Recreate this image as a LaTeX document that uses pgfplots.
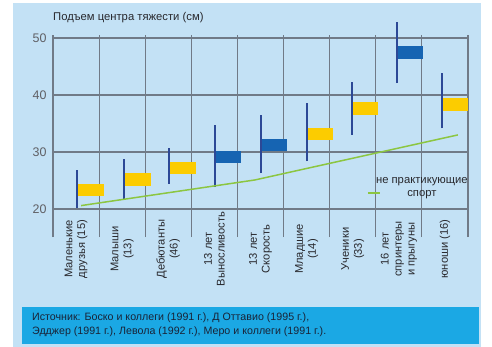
\documentclass[border=0pt]{standalone}
\usepackage{fontspec}
\setmainfont{Liberation Sans}
\usepackage{pgfplots}
\pgfplotsset{compat=1.18}
\definecolor{panel}{RGB}{195,225,245}
\definecolor{srcbox}{RGB}{27,168,228}
\definecolor{ybox}{RGB}{252,204,0}
\definecolor{bbox}{RGB}{22,100,178}
\definecolor{rline}{RGB}{44,72,150}
\definecolor{gline}{RGB}{140,198,65}
\definecolor{gridc}{RGB}{112,122,135}
\definecolor{txt}{RGB}{40,40,45}
\definecolor{srctxt}{RGB}{25,35,55}
\begin{document}
\begin{tikzpicture}
\useasboundingbox (0,0) rectangle (492bp,347bp);
\fill[white] (0,0) rectangle (492bp,347bp);
\fill[panel] (13bp,0) rectangle (481bp,344bp);
\fill[srcbox] (22bp,3bp) rectangle (479bp,40bp);
\node[anchor=west, font=\fontsize{10.7}{14}\selectfont, text=srctxt, align=left, inner sep=0pt] at (32bp,22bp) {Источник: Боско и коллеги (1991 г.), Д Оттавио (1995 г.),\\Эдджер (1991 г.), Левола (1992 г.), Меро и коллеги (1991 г.).};
\node[anchor=west, font=\fontsize{11.3}{13}\selectfont, text=txt, inner sep=0pt] at (53bp,329bp) {Подъем центра тяжести (см)};
\begin{axis}[at={(53bp,110bp)}, anchor=south west, scale only axis,
  width=415bp, height=202bp,
  xmin=0, xmax=9, ymin=15.09, ymax=50.53, clip=false,
  axis line style={draw=none}, tick style={draw=none},
  ytick={20,30,40,50}, ymajorgrids,
  xtick={0.5,1.5,...,8.5}, minor xtick={0,1,...,9}, xminorgrids,
  grid style={gridc, line width=1.2bp},
  minor grid style={gridc, line width=1.2bp},
  /pgf/number format/assume math mode=true,
  xticklabels={{Маленькие\\друзья (15)},{Малыши\\(13)},{Дебютанты\\(46)},{13 лет\\Выносливость},{13 лет\\Скорость},{Младшие\\(14)},{Ученики\\(33)},{16 лет\\спринтеры\\и прыгуны},{юноши (16)}},
  xticklabel style={yshift=-12bp, rotate=90, anchor=center, align=center, font=\fontsize{11.2}{13}\selectfont, text=txt},
  yticklabel style={font=\fontsize{12.5}{14}\selectfont, text={rgb,255:red,95;green,95;blue,100}, xshift=-3bp},
]
% mean boxes
\addplot[ybox, line width=12.5bp] coordinates {(0.52,23.3) (1.11,23.3)};
\addplot[ybox, line width=12.5bp] coordinates {(1.54,25.15) (2.13,25.15)};
\addplot[ybox, line width=12.5bp] coordinates {(2.52,27.2) (3.10,27.2)};
\addplot[bbox, line width=12.5bp] coordinates {(3.51,29.15) (4.08,29.15)};
\addplot[bbox, line width=12.5bp] coordinates {(4.51,31.2) (5.07,31.2)};
\addplot[ybox, line width=12.5bp] coordinates {(5.51,33.2) (6.07,33.2)};
\addplot[ybox, line width=12.5bp] coordinates {(6.48,37.6) (7.05,37.6)};
\addplot[bbox, line width=12.5bp] coordinates {(7.46,47.5) (8.02,47.5)};
\addplot[ybox, line width=12.5bp] coordinates {(8.44,38.3) (9.0,38.3)};
% ranges
\addplot[rline, line width=2bp] coordinates {(0.52,20.1) (0.52,26.8)};
\addplot[rline, line width=2bp] coordinates {(1.54,21.75) (1.54,28.7)};
\addplot[rline, line width=2bp] coordinates {(2.52,24.4) (2.52,30.75)};
\addplot[rline, line width=2bp] coordinates {(3.51,23.9) (3.51,34.7)};
\addplot[rline, line width=2bp] coordinates {(4.51,26.3) (4.51,36.5)};
\addplot[rline, line width=2bp] coordinates {(5.51,28.4) (5.51,38.6)};
\addplot[rline, line width=2bp] coordinates {(6.48,33.0) (6.48,42.3)};
\addplot[rline, line width=2bp] coordinates {(7.46,42.1) (7.46,52.8)};
\addplot[rline, line width=2bp] coordinates {(8.44,34.2) (8.44,43.9)};
% non-athletes
\addplot[gline, line width=1.5bp] coordinates {(0.61,20.6) (4.38,25.1) (8.78,33.0)};
\addplot[gline, line width=1.5bp] coordinates {(6.83,22.8) (7.09,22.8)};
\node[font=\fontsize{11.3}{12.5}\selectfont, text=txt, align=center] at (axis cs:8.0,23.68) {не практикующие\\спорт};
\end{axis}
\end{tikzpicture}
\end{document}
